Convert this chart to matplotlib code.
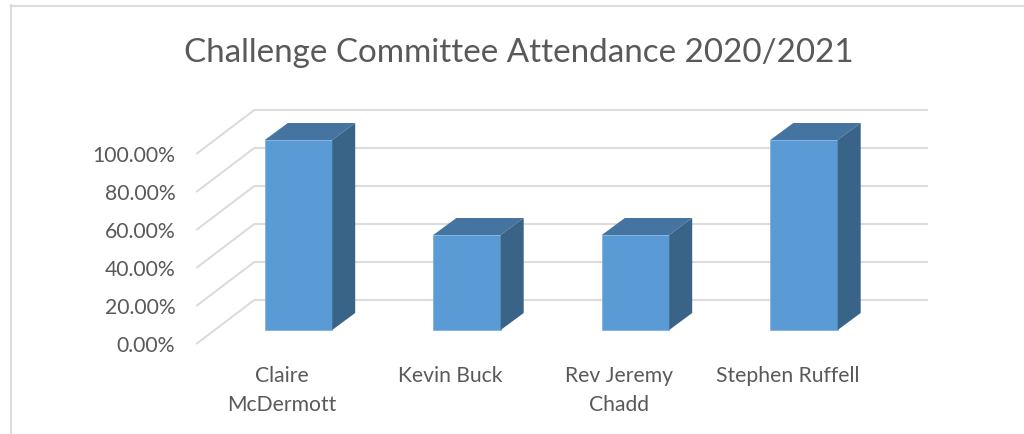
#!/usr/bin/env python3
"""Challenge Committee attendance, Excel-style 3D column chart."""

import matplotlib
matplotlib.use('Agg')
import matplotlib.pyplot as plt
from matplotlib.patches import Polygon

names = ['Claire\nMcDermott', 'Kevin Buck', 'Rev Jeremy\nChadd', 'Stephen Ruffell']
attendance = [100, 50, 50, 100]
y_ticks = [0, 20, 40, 60, 80, 100]
y_labels = ['0.00%', '20.00%', '40.00%', '60.00%', '80.00%', '100.00%']
title = 'Challenge Committee Attendance 2020/2021'

W, H = 1024, 434
GRID = '#dcdcdc'
TEXT = '#595959'
FRONT = '#5b9bd5'
TOP = '#44749f'
SIDE = '#396487'

plt.rcParams['font.family'] = ['Lato', 'DejaVu Sans']

fig = plt.figure(figsize=(W / 100, H / 100), dpi=100)
# bar front plane, pixel box
left, right, top, bottom = 214.25, 888.25, 140, 330
ax = fig.add_axes([left / W, 1 - bottom / H, (right - left) / W, (bottom - top) / H])
ax.set_xlim(-0.5, 3.5)
ax.set_ylim(0, 100)
ax.axis('off')

# pixels to data units
px = 4 / (right - left)
py = 100 / (bottom - top)

# floor front edge and back wall, relative to the bar plane
fx, fy = -18 * px, -14 * py
wx, wy = 40 * px, 30 * py

for t, lab in zip(y_ticks, y_labels):
    ax.plot([-0.5 + fx, -0.5 + wx], [t + fy, t + wy], color=GRID, lw=1.5,
            clip_on=False, zorder=1, solid_capstyle='butt')
    ax.plot([-0.5 + wx, 3.5 + wx], [t + wy, t + wy], color=GRID, lw=1.5,
            clip_on=False, zorder=1, solid_capstyle='butt')
    ax.text(-0.5 + fx - 21 * px, t + fy - 1.5 * py, lab, ha='right', va='center',
            fontsize=15.2, color=TEXT, clip_on=False)

# bars with fake depth
bw = 0.4
dx, dy = 23 * px, 17 * py
for i, v in enumerate(attendance):
    x0, x1 = i - bw / 2, i + bw / 2
    ax.bar(i, v, width=bw, color=FRONT, edgecolor='#7fb2e0', linewidth=0.6, zorder=3,
           clip_on=False)
    ax.add_patch(Polygon([(x0, v), (x1, v), (x1 + dx, v + dy), (x0 + dx, v + dy)],
                         closed=True, fc=TOP, ec='none', zorder=3, clip_on=False))
    ax.add_patch(Polygon([(x1, 0), (x1 + dx, dy), (x1 + dx, v + dy), (x1, v)],
                         closed=True, fc=SIDE, ec='none', zorder=3, clip_on=False))
    ax.text(i - 16.5 * px, -36 * py, names[i], ha='center', va='top',
            fontsize=15.2, color=TEXT, linespacing=1.55, clip_on=False)

fig.text(518.5 / W, 1 - 53 / H, title, ha='center', va='center', fontsize=23.9, color=TEXT)

# chart frame, left and top edges only
fig.add_artist(plt.Line2D([11 / W, 11 / W], [0, 1 - 5 / H], color=GRID, lw=1.5))
fig.add_artist(plt.Line2D([11 / W, 1], [1 - 6 / H, 1 - 6 / H], color=GRID, lw=1.5))

fig.savefig('out.png', dpi=100)
